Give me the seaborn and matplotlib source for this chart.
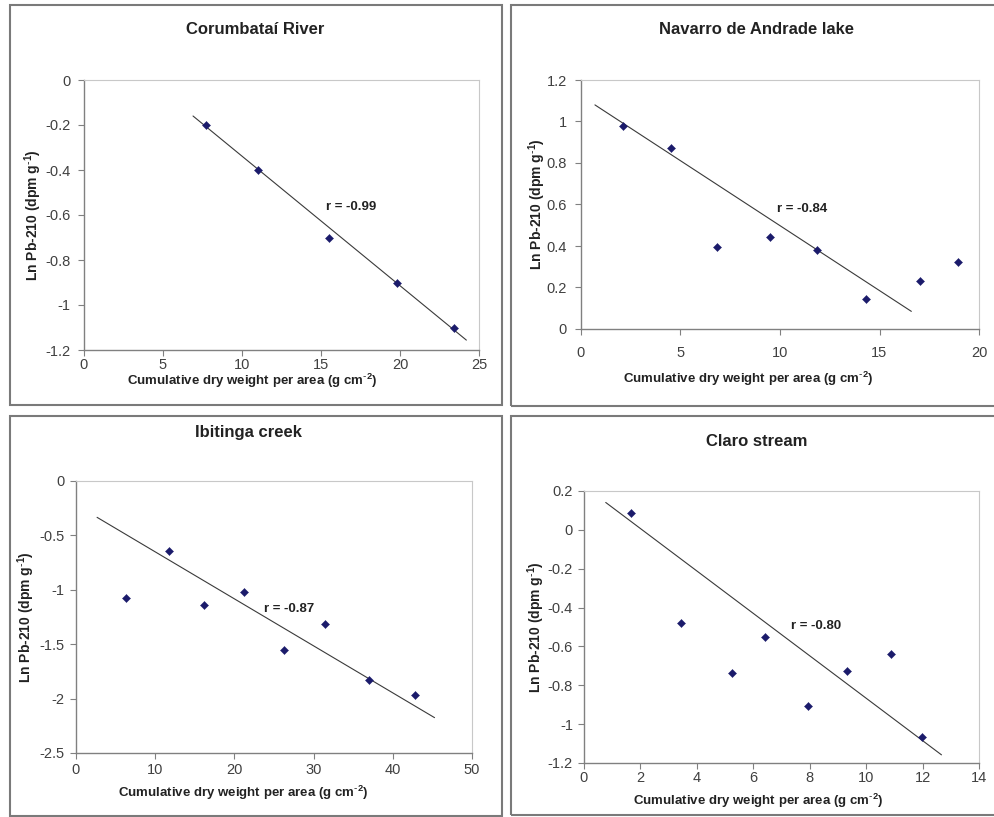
import numpy as np
import matplotlib
matplotlib.use("Agg")
import matplotlib.pyplot as plt
from matplotlib.patches import Rectangle
import seaborn as sns

# ------------------------------------------------
# Dados
# ------------------------------------------------
titulos = ["Corumbataí River", "Navarro de Andrade lake", "Ibitinga creek", "Claro stream"]

# Corumbataí River
x_corumbatai = [7.7, 11.0, 15.5, 19.8, 23.4]
y_corumbatai = [-0.20, -0.40, -0.70, -0.90, -1.10]
linha_x_corumbatai = [6.9, 24.2]
linha_y_corumbatai = [-0.160, -1.156]
r_corumbatai = "r = -0.99"

# Navarro de Andrade lake
x_navarro = [2.09, 4.52, 6.81, 9.51, 11.85, 14.34, 17.02, 18.93]
y_navarro = [0.979, 0.870, 0.393, 0.444, 0.382, 0.143, 0.229, 0.322]
linha_x_navarro = [0.70, 16.6]
linha_y_navarro = [1.080, 0.085]
r_navarro = "r = -0.84"

# Ibitinga creek
x_ibitinga = [6.37, 11.73, 16.16, 21.22, 26.2, 31.39, 37.0, 42.74]
y_ibitinga = [-1.077, -0.644, -1.144, -1.021, -1.555, -1.310, -1.831, -1.966]
linha_x_ibitinga = [2.66, 45.27]
linha_y_ibitinga = [-0.334, -2.175]
r_ibitinga = "r = -0.87"

# Claro stream
x_claro = [1.67, 3.43, 5.25, 6.43, 7.94, 9.32, 10.87, 11.98]
y_claro = [0.085, -0.477, -0.737, -0.551, -0.907, -0.727, -0.638, -1.068]
linha_x_claro = [0.77, 12.67]
linha_y_claro = [0.141, -1.158]
r_claro = "r = -0.80"

# ------------------------------------------------
# Configuração global
# ------------------------------------------------
sns.set_theme(style="white")
plt.rcParams['font.family'] = ['Liberation Sans', 'DejaVu Sans']
plt.rcParams['mathtext.default'] = 'regular'

W, H = 995, 817
COR_PONTO = '#1b1b6b'
COR_TEXTO = '#222222'
COR_TICK = '#404040'

XLABEL = r"Cumulative dry weight per area (g cm$^{\text{-}2}$)"
YLABEL = r"Ln Pb-210 (dpm g$^{\text{-}1}$)"


def px_ret(x0, y0, x1, y1):
    """Converte caixa em pixels (topo-esquerda) para coordenadas da figura."""
    return [x0 / W, 1 - y1 / H, (x1 - x0) / W, (y1 - y0) / H]


def desenhar_painel(fig, caixa, x, y, lx, ly, r_txt, r_pos, xlim, xticks, ylim, yticks,
                    xlab_pos, ylab_pos, pad_x, pad_y):
    ax = fig.add_axes(px_ret(*caixa))
    sns.lineplot(x=lx, y=ly, ax=ax, color='#3a3a3a', linewidth=0.8)
    sns.scatterplot(x=x, y=y, ax=ax, marker='D', s=17, color=COR_PONTO,
                    edgecolor=COR_PONTO, linewidth=0.3, zorder=3)
    ax.text(r_pos[0], r_pos[1], r_txt, fontsize=9.5, fontweight='bold',
            color=COR_TEXTO, va='center', ha='left')
    ax.set_xlim(*xlim)
    ax.set_ylim(*ylim)
    ax.set_xticks(xticks)
    ax.set_yticks(yticks)
    ax.set_xticklabels([f"{t:g}" for t in xticks])
    ax.set_yticklabels([f"{t:g}" for t in yticks])
    ax.tick_params(axis='both', which='both', direction='out', length=4, width=0.8,
                   colors='#808080', labelcolor=COR_TICK, labelsize=10.5)
    ax.tick_params(axis='x', pad=pad_x, bottom=True)
    ax.tick_params(axis='y', pad=pad_y, left=True)
    for lado in ['top', 'right']:
        ax.spines[lado].set_color('#c8c8c8')
        ax.spines[lado].set_linewidth(0.8)
    for lado in ['left', 'bottom']:
        ax.spines[lado].set_color('#808080')
        ax.spines[lado].set_linewidth(1.0)
    ax.set_xlabel(XLABEL, fontsize=9.5, fontweight='bold', color=COR_TEXTO)
    ax.set_ylabel(YLABEL, fontsize=10, fontweight='bold', color=COR_TEXTO)
    ax.xaxis.set_label_coords(*xlab_pos)
    ax.yaxis.set_label_coords(*ylab_pos)
    return ax


fig = plt.figure(figsize=(W / 100, H / 100), dpi=100)

# Molduras de cada gráfico
for (x0, y0, x1, y1) in [(10, 5, 502, 405), (511, 5, 1000, 406),
                         (10, 416, 502, 816), (511, 416, 1000, 815)]:
    fig.add_artist(Rectangle((x0 / W, 1 - y1 / H), (x1 - x0) / W, (y1 - y0) / H,
                             transform=fig.transFigure, fill=False,
                             edgecolor='#7a7a7a', linewidth=1.5))

# (1) Corumbataí River
desenhar_painel(fig, (84, 80, 479, 350), x_corumbatai, y_corumbatai,
                linha_x_corumbatai, linha_y_corumbatai, r_corumbatai, (15.3, -0.566),
                (0, 25), [0, 5, 10, 15, 20, 25], (-1.2, 0), [-1.2, -1, -0.8, -0.6, -0.4, -0.2, 0],
                (0.425, -0.08), (-0.10, 0.5), 2, 5.5)
fig.text(255 / W, 1 - 30 / H, titulos[0], fontsize=12, fontweight='bold',
         color=COR_TEXTO, ha='center', va='center')

# (2) Navarro de Andrade lake
desenhar_painel(fig, (581, 80, 979, 329), x_navarro, y_navarro,
                linha_x_navarro, linha_y_navarro, r_navarro, (9.87, 0.579),
                (0, 20), [0, 5, 10, 15, 20], (0, 1.2), [0, 0.2, 0.4, 0.6, 0.8, 1, 1.2],
                (0.42, -0.165), (-0.084, 0.5), 8.5, 6)
fig.text(757 / W, 1 - 30 / H, titulos[1], fontsize=12, fontweight='bold',
         color=COR_TEXTO, ha='center', va='center')

# (3) Ibitinga creek
desenhar_painel(fig, (76, 481, 472, 753), x_ibitinga, y_ibitinga,
                linha_x_ibitinga, linha_y_ibitinga, r_ibitinga, (23.7, -1.172),
                (0, 50), [0, 10, 20, 30, 40, 50], (-2.5, 0), [-2.5, -2, -1.5, -1, -0.5, 0],
                (0.422, -0.112), (-0.098, 0.5), 3.5, 4.5)
fig.text(248 / W, 1 - 432 / H, titulos[2], fontsize=12, fontweight='bold',
         color=COR_TEXTO, ha='center', va='center')

# (4) Claro stream
desenhar_painel(fig, (584, 491, 979, 763), x_claro, y_claro,
                linha_x_claro, linha_y_claro, r_claro, (7.33, -0.497),
                (0, 14), [0, 2, 4, 6, 8, 10, 12, 14], (-1.2, 0.2),
                [-1.2, -1, -0.8, -0.6, -0.4, -0.2, 0, 0.2],
                (0.44, -0.105), (-0.093, 0.5), 2, 4)
fig.text(757 / W, 1 - 441 / H, titulos[3], fontsize=12, fontweight='bold',
         color=COR_TEXTO, ha='center', va='center')

fig.savefig("out.png", dpi=100)
